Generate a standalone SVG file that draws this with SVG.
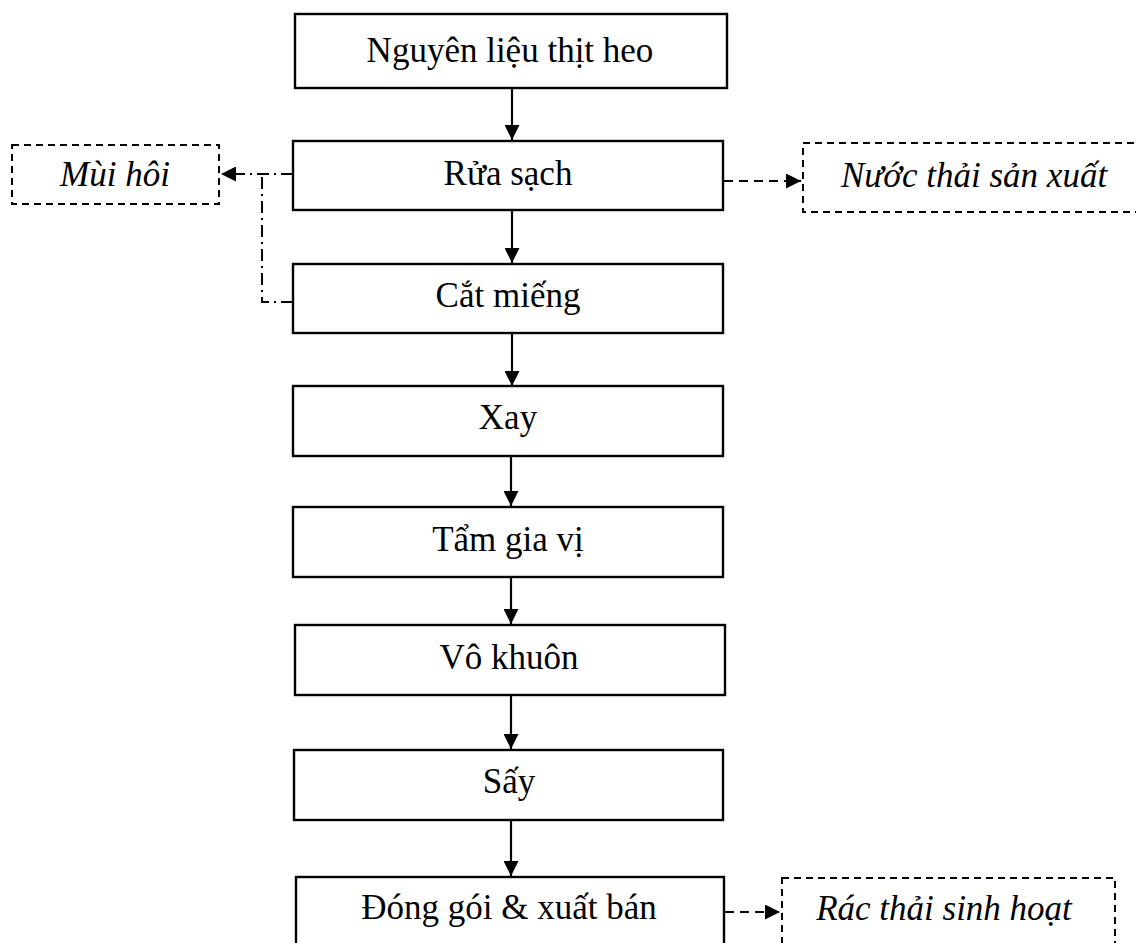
<svg xmlns="http://www.w3.org/2000/svg" width="1136" height="943" viewBox="0 0 1136 943">
<defs>
<style>
.box{fill:#fff;stroke:#000;stroke-width:2.4}
.dbox{fill:#fff;stroke:#000;stroke-width:2;stroke-dasharray:7,5}
.t{font-family:"Liberation Serif","Times New Roman",serif;font-size:35px;fill:#000;text-anchor:middle}
.ti{font-style:italic}
.ln{fill:none;stroke:#000;stroke-width:2.2}
.dash{fill:none;stroke:#000;stroke-width:2.2;stroke-dasharray:9,6}
.dd{fill:none;stroke:#000;stroke-width:2;stroke-dasharray:12,5,2,5}
</style>
<marker id="ah" markerWidth="15" markerHeight="15" refX="15" refY="7.5" orient="auto" markerUnits="userSpaceOnUse">
<path d="M0,0 L15,7.5 L0,15 Z" fill="#000"/>
</marker>
</defs>
<rect width="1136" height="943" fill="#fff"/>
<g id="connectors">
<line class="ln" x1="512" y1="88" x2="512" y2="140" marker-end="url(#ah)"/>
<line class="ln" x1="512" y1="210" x2="512" y2="263" marker-end="url(#ah)"/>
<line class="ln" x1="512" y1="334" x2="512" y2="386" marker-end="url(#ah)"/>
<line class="ln" x1="511" y1="456" x2="511" y2="506" marker-end="url(#ah)"/>
<line class="ln" x1="511" y1="577" x2="511" y2="624" marker-end="url(#ah)"/>
<line class="ln" x1="511" y1="695" x2="511" y2="749" marker-end="url(#ah)"/>
<line class="ln" x1="511" y1="820" x2="511" y2="876" marker-end="url(#ah)"/>
<line class="dash" x1="724" y1="181" x2="801" y2="181" marker-end="url(#ah)"/>
<line class="dash" x1="725" y1="912" x2="780" y2="912" marker-end="url(#ah)"/>
<path class="dd" d="M293,174 L221,174" marker-end="url(#ah)"/>
<path class="dd" d="M293,302 L262,302 L262,174"/>
</g>
<g id="n1"><rect class="box" x="295" y="14" width="432" height="74"/><text class="t" x="510" y="62">Nguyên liệu thịt heo</text></g>
<g id="n2"><rect class="box" x="293" y="141" width="430" height="69"/><text class="t" x="508" y="185">Rửa sạch</text></g>
<g id="n3"><rect class="box" x="293" y="264" width="430" height="69"/><text class="t" x="508" y="307">Cắt miếng</text></g>
<g id="n4"><rect class="box" x="293" y="386" width="430" height="70"/><text class="t" x="508" y="429">Xay</text></g>
<g id="n5"><rect class="box" x="293" y="507" width="430" height="70"/><text class="t" x="508" y="551">Tẩm gia vị</text></g>
<g id="n6"><rect class="box" x="295" y="625" width="430" height="70"/><text class="t" x="509" y="669">Vô khuôn</text></g>
<g id="n7"><rect class="box" x="294" y="750" width="429" height="70"/><text class="t" x="509" y="793">Sấy</text></g>
<g id="n8"><rect class="box" x="296" y="877" width="428" height="90"/><text class="t" x="509" y="919">Đóng gói &amp; xuất bán</text></g>
<g id="w1"><rect class="dbox" x="12" y="145" width="207" height="59"/><text class="t ti" x="115" y="186">Mùi hôi</text></g>
<g id="w2"><rect class="dbox" x="803" y="143" width="345" height="69"/><text class="t ti" x="974" y="187">Nước thải sản xuất</text></g>
<g id="w3"><rect class="dbox" x="782" y="878" width="333" height="90"/><text class="t ti" x="944" y="920">Rác thải sinh hoạt</text></g>
</svg>
